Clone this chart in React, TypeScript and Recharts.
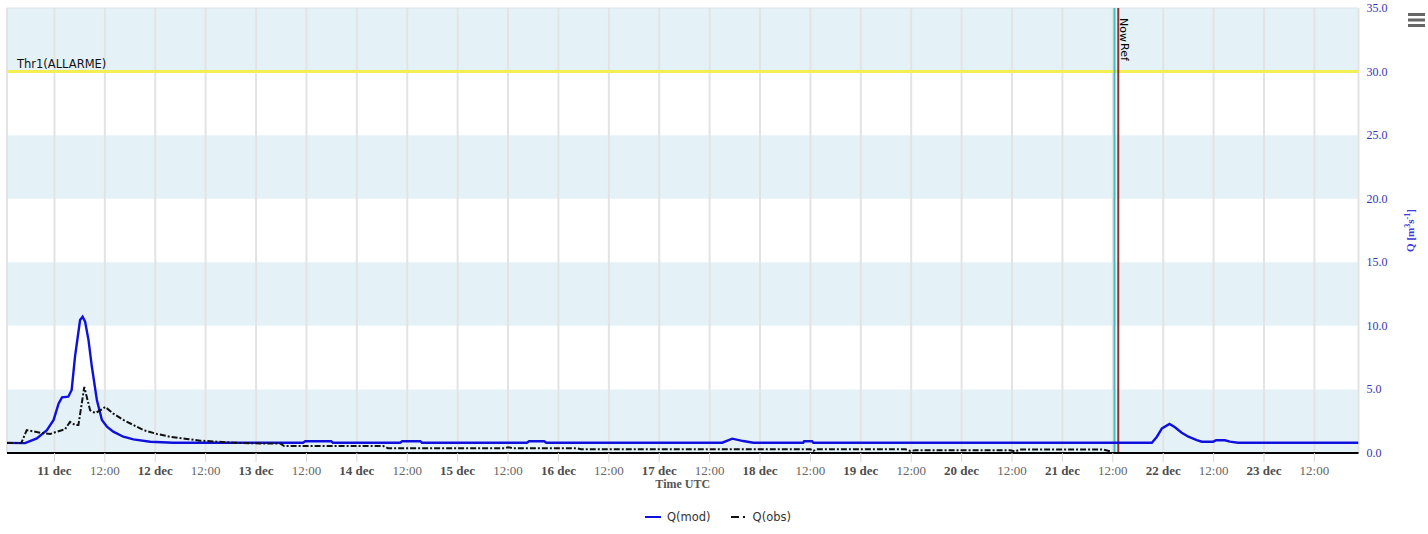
import React from 'react';
import { LineChart, Line, XAxis, YAxis, CartesianGrid, ReferenceLine, ReferenceArea, Legend, Label } from 'recharts';

// time in hours from 11 dec 00:00 UTC
const modTimes = [-11.3, -7.0, -4.2, -1.8, -0.2, 1.0, 1.8, 3.3, 4.1, 4.9, 6.1, 6.7, 7.3, 8.1, 8.9, 10.1, 11.3, 12.5, 14.0, 16.4, 18.8, 22.8, 28.3, 59.2, 59.7, 65.9, 66.3, 82.3, 82.8, 87.1, 87.5, 112.5, 113.0, 116.6, 117.1, 159.0, 161.4, 164.0, 166.4, 178.3, 178.5, 180.4, 180.7, 261.3, 262.5, 263.7, 265.5, 266.8, 268.4, 270.0, 272.0, 273.2, 275.9, 276.6, 278.7, 279.9, 281.8, 310.5];
const modValues = [0.8, 0.78, 1.15, 1.8, 2.6, 3.9, 4.38, 4.43, 4.96, 7.6, 10.46, 10.72, 10.33, 8.9, 6.8, 4.17, 2.6, 2.07, 1.68, 1.28, 1.07, 0.89, 0.81, 0.81, 0.92, 0.92, 0.81, 0.81, 0.93, 0.93, 0.81, 0.81, 0.92, 0.92, 0.81, 0.81, 1.13, 0.94, 0.81, 0.81, 0.92, 0.92, 0.81, 0.81, 1.28, 1.94, 2.28, 2.02, 1.6, 1.28, 1.02, 0.89, 0.89, 1.0, 1.0, 0.89, 0.81, 0.81];

const obsTimes = [-11.3, -7.9, -6.6, -5.8, -3.4, -1.0, 0.6, 2.5, 3.7, 4.9, 5.7, 6.5, 7.1, 7.7, 8.5, 9.7, 10.9, 12.1, 14.0, 16.4, 18.8, 21.2, 24.4, 27.5, 31.5, 34.7, 38.7, 42.6, 47.3, 53.7, 54.7, 78.3, 79.4, 107.3, 108.0, 109.0, 124.4, 125.4, 180.0, 180.7, 181.4, 202.6, 203.8, 205.0, 227.5, 228.7, 229.9, 249.7, 251.6];
const obsValues = [0.78, 0.78, 1.8, 1.75, 1.6, 1.5, 1.68, 1.86, 2.45, 2.2, 2.2, 3.9, 5.2, 4.4, 3.35, 3.15, 3.35, 3.62, 3.1, 2.6, 2.2, 1.8, 1.5, 1.28, 1.1, 0.97, 0.89, 0.81, 0.76, 0.75, 0.55, 0.55, 0.38, 0.38, 0.45, 0.38, 0.37, 0.29, 0.29, 0.16, 0.29, 0.29, 0.16, 0.22, 0.22, 0.12, 0.27, 0.27, 0.12];

const xTicks = [0, 12, 24, 36, 48, 60, 72, 84, 96, 108, 120, 132, 144, 156, 168, 180, 192, 204, 216, 228, 240, 252, 264, 276, 288, 300];
const yTicks = [0, 5, 10, 15, 20, 25, 30, 35];
const bandStarts = [0, 10, 20, 30];
const bandSize = 5;
const xDomain = [-11.3, 310.5];
const firstDay = 11;
const monthLabel = 'dec';

const thresholdValue = 30;
const thresholdLabel = 'Thr1(ALLARME)';
const nowTime = 252.4;
const refTime = 253.3;

const modData = modTimes.map((t, i) => ({ t, v: modValues[i] }));
const obsData = obsTimes.map((t, i) => ({ t, v: obsValues[i] }));

const SERIF = '"Liberation Serif", "Times New Roman", serif';
const SANS = '"DejaVu Sans", Verdana, sans-serif';

const XTick = (props: any) => {
  const { x, y, payload } = props;
  const h = payload.value;
  const isDay = h % 24 === 0;
  const label = isDay ? `${firstDay + Math.floor(h / 24)} ${monthLabel}` : '12:00';
  return (
    <text x={x} y={y + 11} textAnchor="middle" fontFamily={SERIF} fontSize={13}
      fontWeight={isDay ? 'bold' : 'normal'} fill={isDay ? '#4d4d4d' : '#666666'}>
      {label}
    </text>
  );
};

const YTick = (props: any) => {
  const { x, y, payload } = props;
  return (
    <text x={x} y={y + 4} textAnchor="start" fontFamily={SERIF} fontSize={12} fill="#3535b5">
      {Number(payload.value).toFixed(1)}
    </text>
  );
};

const yTitle = (props: any) => {
  const vb = props.viewBox;
  const cx = vb.x + 55;
  const cy = vb.y + vb.height / 2;
  return (
    <text x={cx} y={cy} transform={`rotate(-90, ${cx}, ${cy})`} textAnchor="middle"
      fontFamily={SERIF} fontSize={11} fontWeight="bold" fill="#3a3ae0">
      Q [m<tspan fontSize={8} dy={-4}>3</tspan><tspan dy={4}>s</tspan><tspan fontSize={8} dy={-4}>-1</tspan><tspan dy={4}>]</tspan>
    </text>
  );
};

const xTitle = (props: any) => {
  const vb = props.viewBox;
  return (
    <text x={vb.x + vb.width / 2} y={vb.y + 35} textAnchor="middle" fontFamily={SERIF}
      fontSize={12} fontWeight="bold" fill="#555555">
      Time UTC
    </text>
  );
};

const thrLabel = (props: any) => {
  const vb = props.viewBox;
  return (
    <text x={vb.x + 10} y={vb.y - 4} fontFamily={SANS} fontSize={11.5} fill="#111111">
      {thresholdLabel}
    </text>
  );
};

const vertLabel = (text: string, dx: number, dy: number) => (props: any) => {
  const vb = props.viewBox;
  const lx = vb.x + dx;
  const ly = vb.y + dy;
  return (
    <text x={lx} y={ly} transform={`rotate(90, ${lx}, ${ly})`} fontFamily={SANS} fontSize={11} fill="#000000">
      {text}
    </text>
  );
};

const renderLegend = (props: any) => {
  const payload = props.payload || [];
  return (
    <div style={{ display: 'flex', justifyContent: 'center', alignItems: 'center', width: 1428, paddingLeft: 8, boxSizing: 'border-box', fontFamily: SANS, fontSize: 11.5, color: '#333333' }}>
      {payload.map((entry: any, i: number) => {
        const dash = entry.payload && entry.payload.strokeDasharray;
        return (
          <div key={i} style={{ display: 'flex', alignItems: 'center', marginLeft: i === 0 ? 0 : 20 }}>
            <svg width={16} height={12} style={{ marginRight: 6 }}>
              <line x1={0} y1={6} x2={16} y2={6} stroke={entry.color} strokeWidth={2} strokeDasharray={dash ? '8 4 2 4' : undefined} />
            </svg>
            <span>{entry.value}</span>
          </div>
        );
      })}
    </div>
  );
};

export default function App() {
  return (
    <div style={{ position: 'absolute', left: 0, top: 0, width: 1428, height: 534, background: '#ffffff' }}>
      <LineChart width={1428} height={534} margin={{ top: 8, right: 0, bottom: 0, left: 7 }}>
        {bandStarts.map((b) => (
          <ReferenceArea key={b} y1={b} y2={b + bandSize} fill="#e4f2f8" fillOpacity={1} stroke="none"
            ifOverflow="hidden" zIndex={-150} />
        ))}
        <CartesianGrid horizontal={false} vertical={true} stroke="#e3e3e3" strokeWidth={2} />
        <XAxis dataKey="t" type="number" domain={xDomain} ticks={xTicks} allowDataOverflow
          height={81} tick={<XTick />} tickSize={9} tickMargin={2}
          tickLine={{ stroke: '#d8d8d8', strokeWidth: 1 }}
          axisLine={{ stroke: '#000000', strokeWidth: 2 }} interval={0}>
          <Label content={xTitle} />
        </XAxis>
        <YAxis orientation="right" type="number" domain={[0, 35]} ticks={yTicks} width={69.5}
          axisLine={false} tickLine={false} tickSize={6} tickMargin={2} tick={<YTick />} interval={0}>
          <Label content={yTitle} />
        </YAxis>
        <ReferenceLine y={35} stroke="#dde3e6" strokeWidth={1} />
        <ReferenceLine y={thresholdValue} stroke="#f3ee52" strokeWidth={3} label={thrLabel} />
        <ReferenceLine x={nowTime} stroke="#40bec8" strokeWidth={2} label={vertLabel('Now', 6, 10)} />
        <ReferenceLine x={refTime} stroke="#8c3232" strokeWidth={2} label={vertLabel('Ref', 3, 35)} />
        <Line data={modData} dataKey="v" name="Q(mod)" type="linear" stroke="#1010dc" strokeWidth={2.4}
          dot={false} activeDot={false} isAnimationActive={false} />
        <Line data={obsData} dataKey="v" name="Q(obs)" type="linear" stroke="#111111" strokeWidth={2}
          strokeDasharray="6 2 2 2" dot={false} activeDot={false} isAnimationActive={false} />
        <Legend content={renderLegend} layout="vertical" align="center" verticalAlign="middle"
          wrapperStyle={{ top: 510, left: 0, width: 1428 }} />
      </LineChart>
      <svg width={20} height={16} style={{ position: 'absolute', left: 1407, top: 12 }}>
        <rect x={1} y={1} width={17} height={3} fill="#666666" />
        <rect x={1} y={6.5} width={17} height={3} fill="#666666" />
        <rect x={1} y={12} width={17} height={3} fill="#666666" />
      </svg>
    </div>
  );
}
